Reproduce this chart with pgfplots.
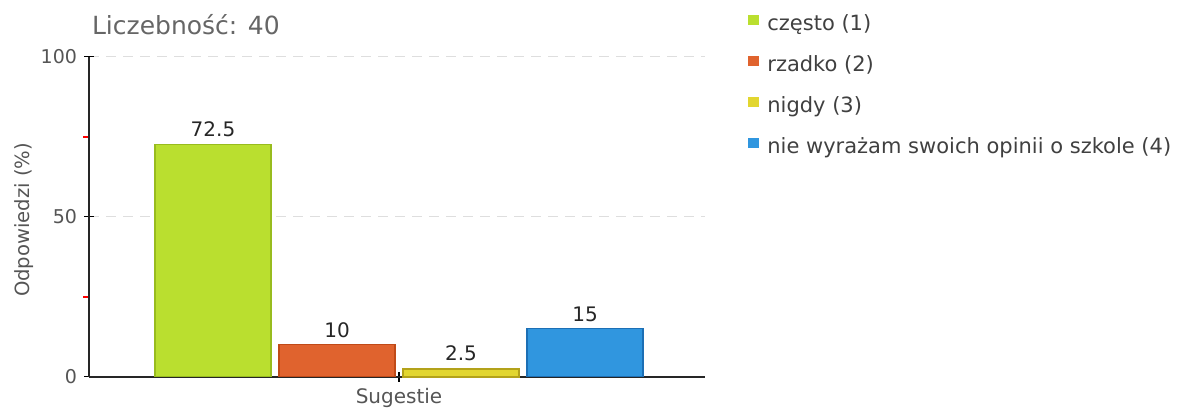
\documentclass[border=0pt]{standalone}
\usepackage{fontspec}
\setmainfont{DejaVu Sans}
\usepackage{pgfplots}
\pgfplotsset{compat=1.18}

\definecolor{fgreen}{HTML}{BADF2F}
\definecolor{dgreen}{HTML}{98BC1E}
\definecolor{forange}{HTML}{E0632E}
\definecolor{dorange}{HTML}{C04A18}
\definecolor{fyellow}{HTML}{E2D630}
\definecolor{dyellow}{HTML}{B3A21A}
\definecolor{fblue}{HTML}{3096DF}
\definecolor{dblue}{HTML}{1C6FB5}
\definecolor{txtgray}{HTML}{555555}

\begin{document}
\begin{tikzpicture}
\useasboundingbox (-44.5pt,-15.15pt) rectangle (546pt,188.35pt);
\begin{axis}[
    scale only axis,
    width=308pt, height=160pt,
    xmin=-310, xmax=306,
    ymin=0, ymax=100,
    clip=false,
    axis x line=bottom, axis y line=left,
    axis line style={-, line width=0.8pt, black!85},
    ybar=4pt, bar width=58pt,
    xtick={0}, xticklabels={Sugestie},
    ytick={0,50,100}, minor ytick={25,75},
    tick align=center,
    major tick length=5pt, minor tick length=3pt,
    every tick/.style={black, line width=0.6pt},
    minor y tick style={red, line width=0.9pt, xshift=-1.5pt},
    ymajorgrids,
    grid style={dash pattern=on 5pt off 3.5pt, line width=0.5pt, black!13},
    tick label style={font=\fontsize{9.5}{11}\selectfont, text=txtgray},
    /pgf/number format/assume math mode=true,
    xticklabel style={font=\fontsize{10}{12}\selectfont},
    ylabel={Odpowiedzi (\%)},
    ylabel style={at={(axis description cs:-0.105,0.49)}, anchor=center,
        font=\fontsize{9.8}{12}\selectfont, text=txtgray},
    nodes near coords,
    every node near coord/.append style={font=\fontsize{10}{12}\selectfont,
        text=black!85, /pgf/number format/assume math mode=true},
    legend style={at={(1.06,1.146)}, anchor=north west, draw=none, fill=none,
        font=\fontsize{10.5}{12}\selectfont, text=black!75,
        nodes={inner sep=0pt, text height=8pt, text depth=2.5pt},
        row sep=10pt,
        /tikz/every odd column/.append style={column sep=4pt}},
    legend cell align=left,
    legend image code/.code={\fill[#1,draw=none] (0pt,0pt) rectangle (5.5pt,5pt);},
]
\addplot[fill=fgreen, draw=dgreen, line width=0.75pt] coordinates {(0,72.5)};
\addplot[fill=forange, draw=dorange, line width=0.75pt] coordinates {(0,10)};
\addplot[fill=fyellow, draw=dyellow, line width=1pt] coordinates {(0,2.5)};
\addplot[fill=fblue, draw=dblue, line width=0.75pt] coordinates {(0,15)};
\legend{często (1), rzadko (2), nigdy (3), nie wyrażam swoich opinii o szkole (4)}
\node[anchor=base west, font=\fontsize{12.5}{14}\selectfont, text=black!60]
    at ([xshift=-2pt,yshift=10.85pt]rel axis cs:0,1) {Liczebność: 40};
\end{axis}
\end{tikzpicture}
\end{document}
